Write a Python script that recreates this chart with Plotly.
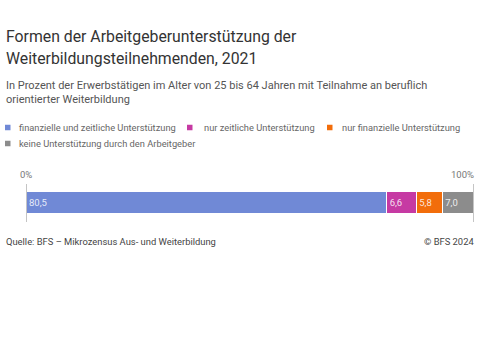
import plotly.graph_objects as go

categories = ["finanzielle und zeitliche Unterstützung", "nur zeitliche Unterstützung",
              "nur finanzielle Unterstützung", "keine Unterstützung durch den Arbeitgeber"]
values = [80.5, 6.6, 5.8, 7.0]
colors = ["#7089d6", "#c63aa3", "#f26d0b", "#8c8c8c"]
tick_vals = [0, 100]
tick_labels = ["0%", "100%"]

FONT = "Roboto, Arial, sans-serif"
W, H = 480, 355
L, R, T, B = 26, 6, 180, 130
PW, PH = W - L - R, H - T - B


def px(x):
    return (x - L) / PW


def py(y):
    return 1 - (y - T) / PH


fig = go.Figure()
for name, v, c in zip(categories, values, colors):
    fig.add_trace(go.Bar(
        x=[v], y=[0], orientation="h", name=name,
        marker=dict(color=c, line=dict(color="white", width=1)),
        width=0.467,
        text=[f"{v:.1f}".replace(".", ",")],
        textposition="inside", insidetextanchor="start",
        textfont=dict(family=FONT, size=9.5, color="rgba(255,255,255,0.85)"),
        showlegend=False, hoverinfo="skip",
    ))

# axis lines at 0% and 100%
for tv, tl in zip(tick_vals, tick_labels):
    fig.add_shape(type="line", xref="x", yref="paper", x0=tv, x1=tv, y0=py(222), y1=py(184),
                  line=dict(color="#8a8a8a", width=1))
    fig.add_annotation(xref="x", yref="paper", x=tv, y=py(174),
                       text=tl, showarrow=False, yanchor="middle",
                       xanchor="center" if tv == 0 else "right",
                       xshift=0 if tv == 0 else 2,
                       font=dict(family=FONT, size=9.5, color="#777"))

# custom legend
leg_pos = [(5, 127.5, 17), (187, 127.5, 202), (327, 127.5, 340), (5, 143.5, 17)]
for (sx, sy, tx), name, c in zip(leg_pos, categories, colors):
    fig.add_shape(type="rect", xref="paper", yref="paper",
                  x0=px(sx), x1=px(sx + 5.5),
                  y0=py(sy + 2.75), y1=py(sy - 2.75),
                  fillcolor=c, line=dict(width=0))
    fig.add_annotation(xref="paper", yref="paper", x=px(tx),
                       y=py(sy), text=name, showarrow=False,
                       xanchor="left", yanchor="middle",
                       font=dict(family=FONT, size=9.3, color="#666"))

texts = [
    ("Formen der Arbeitgeberunterstützung der", 4, 36, 15.8, "#333", "left"),
    ("Weiterbildungsteilnehmenden, 2021", 4, 59, 15.8, "#333", "left"),
    ("In Prozent der Erwerbstätigen im Alter von 25 bis 64 Jahren mit Teilnahme an beruflich", 4, 85, 11, "#555", "left"),
    ("orientierter Weiterbildung", 4, 99.5, 11, "#555", "left"),
    ("Quelle: BFS – Mikrozensus Aus- und Weiterbildung", 4, 241, 9.4, "#444", "left"),
    ("© BFS 2024", 476, 241, 9.4, "#444", "right"),
]
for t, x, y, s, col, anc in texts:
    fig.add_annotation(xref="paper", yref="paper", x=px(x), y=py(y), text=t,
                       showarrow=False, xanchor=anc, yanchor="middle",
                       font=dict(family=FONT, size=s, color=col))

fig.update_layout(
    width=W, height=H,
    margin=dict(l=L, r=R, t=T, b=B),
    paper_bgcolor="white", plot_bgcolor="white",
    barmode="stack",
    xaxis=dict(range=[0, 100], visible=False, fixedrange=True),
    yaxis=dict(range=[-0.5, 0.5], visible=False, fixedrange=True),
)

fig.write_html("out.html")
